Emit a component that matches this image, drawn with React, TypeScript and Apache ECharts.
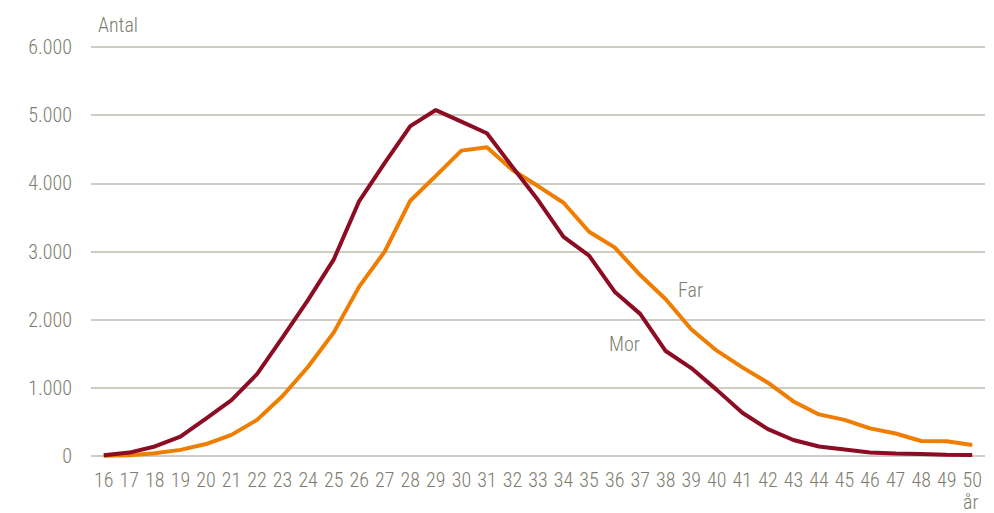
import React, { useEffect, useRef } from "react";
import * as echarts from "echarts";

const ages = ["16","17","18","19","20","21","22","23","24","25","26","27","28","29","30","31","32","33","34","35","36","37","38","39","40","41","42","43","44","45","46","47","48","49","50"];
const mor = [10,50,140,285,550,820,1200,1740,2290,2880,3740,4300,4840,5075,4905,4735,4240,3755,3215,2940,2410,2085,1540,1290,970,635,395,235,140,95,50,35,30,20,15];
const far = [5,10,40,90,175,310,530,880,1310,1810,2485,3000,3745,4110,4480,4530,4195,3960,3715,3290,3060,2655,2300,1860,1545,1300,1075,800,610,530,405,330,220,215,160];
const yTicks = [0, 1000, 2000, 3000, 4000, 5000, 6000];

const FONT = "'Roboto Condensed', 'Arial Narrow', sans-serif";
const TXT = "#7d7c6e";
const FS = 20;
const FW = 300;

export default function App() {
  const ref = useRef<HTMLDivElement>(null);
  useEffect(() => {
    if (!ref.current) return;
    const chart = echarts.init(ref.current, null, { renderer: "svg" });
    chart.setOption({
      animation: false,
      grid: { left: 91, right: 9, top: 47, bottom: 57, containLabel: false },
      xAxis: {
        type: "category",
        data: ages,
        boundaryGap: true,
        axisLine: { show: false },
        axisTick: { show: false },
        axisLabel: { color: TXT, fontFamily: FONT, fontSize: FS, fontWeight: FW, margin: 14, lineHeight: 20, interval: 0 },
      },
      yAxis: {
        type: "value",
        min: yTicks[0],
        max: yTicks[yTicks.length - 1],
        interval: 1000,
        axisLine: { show: false },
        axisTick: { show: false },
        splitLine: { lineStyle: { color: "#bdbdb1", width: 1.5 } },
        axisLabel: {
          color: TXT, fontFamily: FONT, fontSize: FS, fontWeight: FW, margin: 19,
          formatter: (v: number) => v === 0 ? "0" : String(v).replace(/\B(?=(\d{3})+(?!\d))/g, "."),
        },
      },
      series: [
        { name: "Far", type: "line", data: far, symbol: "none", lineStyle: { color: "#ef7d00", width: 4 }, z: 2 },
        { name: "Mor", type: "line", data: mor, symbol: "none", lineStyle: { color: "#8c0c23", width: 4 }, z: 3 },
      ],
      graphic: [
        { type: "text", left: 98, top: 15, style: { text: "Antal", fill: TXT, font: `${FW} ${FS}px ${FONT}` } },
        { type: "text", left: 963, top: 492, style: { text: "år", fill: TXT, font: `${FW} ${FS}px ${FONT}`, lineHeight: 19 } },
        { type: "text", left: 678, top: 280, style: { text: "Far", fill: TXT, font: `${FW} ${FS}px ${FONT}` } },
        { type: "text", left: 609, top: 334, style: { text: "Mor", fill: TXT, font: `${FW} ${FS}px ${FONT}` } },
      ],
    });
    return () => chart.dispose();
  }, []);
  return <div ref={ref} style={{ width: 994, height: 513, position: "absolute", left: 0, top: 0 }} />;
}
